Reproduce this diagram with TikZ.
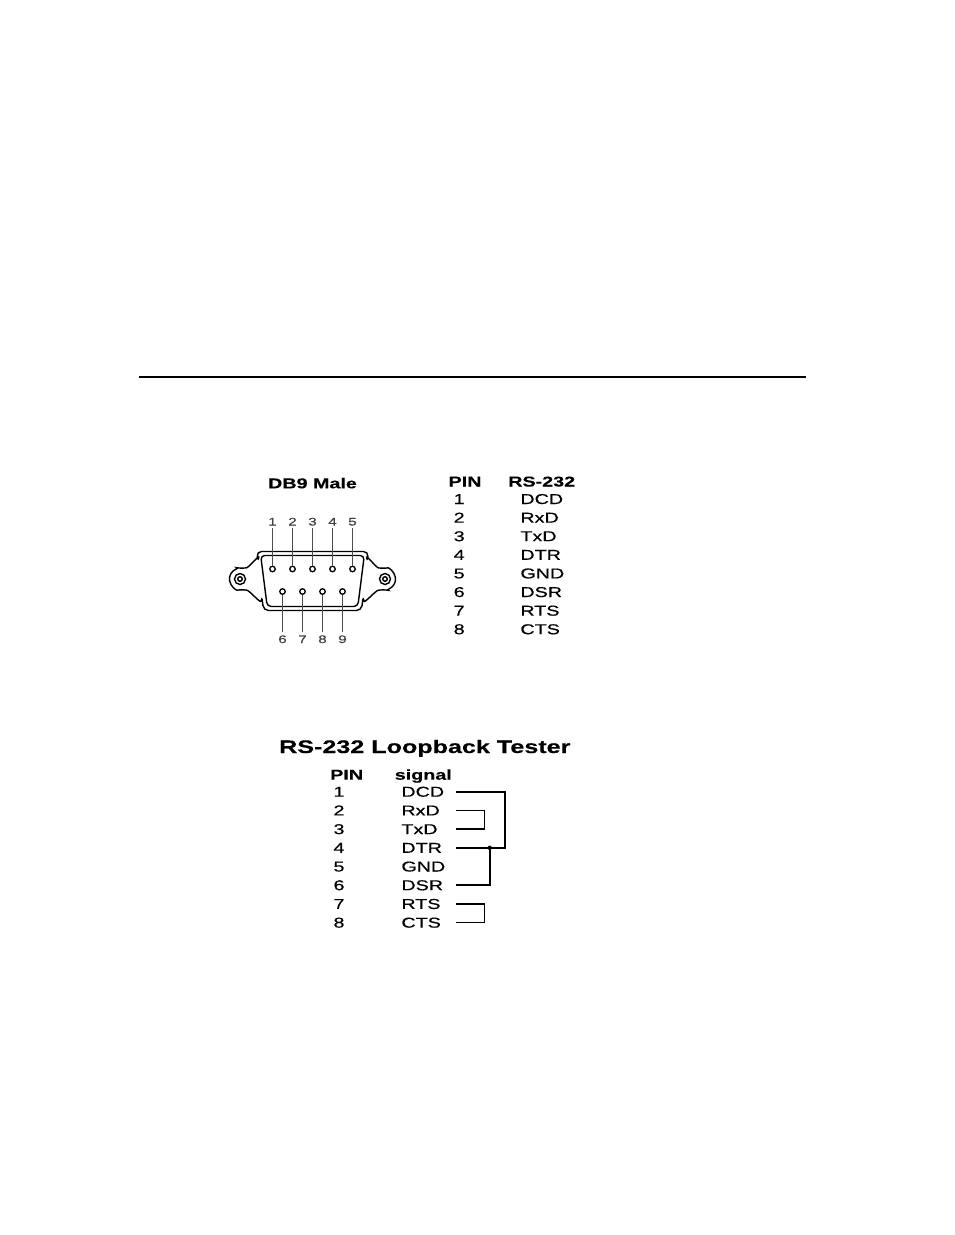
\documentclass[tikz,border=0pt]{standalone}
\usepackage{fontspec}
\setmainfont{Liberation Sans}[FakeStretch=1.38, UprightFeatures={FakeBold=0.4}, BoldFeatures={FakeBold=0.3}]
\usetikzlibrary{calc}

\begin{document}
\begin{tikzpicture}[x=1pt, y=-1pt,
  txt/.style = {inner sep=0pt, text height=10pt, text depth=0pt, font=\fontsize{14.3}{16}\selectfont},
  hd/.style = {txt, font=\bfseries\fontsize{14.3}{16}\selectfont},
  sig/.style = {txt, anchor=west, text width=54.8pt},
  pinno/.style = {inner sep=2.5pt, text height=8pt, text depth=0pt, font=\fontsize{11}{12}\selectfont, text=black!75},
  pin/.style = {draw, circle, minimum size=5.5pt, inner sep=0pt, line width=1.3pt},
  pinline/.style = {draw=black!70, line width=0.8pt},
  shell/.style = {line width=1.4pt},
  wire/.style = {line width=1.6pt}]
  \useasboundingbox (0,0) rectangle (954,1235);
  \draw[line width=2pt] (139,377) -- (806,377);

  % DB9 male connector
  \node[hd] (db9) at (312.5,483.3) {DB9 Male};
  \draw[shell, rounded corners=5pt] (312.5,551.5) -- (368.5,551.5) -- (367.2,562)
    to[out=97, in=170] (383.2,568.7) arc[start angle=-100, end angle=100, radius=10.5]
    to[out=-170, in=-83] (363.2,596) -- (361.5,610.5) -- (263.5,610.5) -- (261.8,596)
    to[out=-97, in=-10] (241.8,589.3) arc[start angle=80, end angle=280, radius=10.5]
    to[out=10, in=83] (258.2,562) -- (256.5,551.5) -- cycle;
  \draw[shell, rounded corners=4pt] (260.7,555.5) -- (364.3,555.5) -- (357.8,606.5) -- (267.2,606.5) -- cycle;
  \foreach \x in {240,385}
    \draw[shell] (\x,579) circle[radius=5.5] (\x,579) circle[radius=2.3];
  \foreach \i in {1,...,5} {
    \node[pin] (p\i) at (252.5+20*\i,569) {};
    \node[pinno] (n\i) at (252.5+20*\i,521.5) {\i};
    \draw[pinline] (n\i) -- (p\i);
  }
  \foreach \i in {6,...,9} {
    \node[pin] (p\i) at (162.5+20*\i,591.5) {};
    \node[pinno] (n\i) at (162.5+20*\i,639) {\i};
    \draw[pinline] (n\i) -- (p\i);
  }

  % pin table
  \node[hd] (pinhd) at (465,481.5) {PIN};
  \node[hd] (rshd) at (541.7,481.5) {RS-232};
  \foreach \s [count=\i] in {DCD,RxD,TxD,DTR,GND,DSR,RTS,CTS} {
    \node[txt] (a\i) at (459.2,480.4+18.6*\i) {\i};
    \node[sig] (b\i) at (520.2,480.4+18.6*\i) {\s};
  }

  % loopback tester
  \node[hd, font=\bfseries\fontsize{18.2}{20}\selectfont, text height=13pt] (title) at (424.8,746.5) {RS-232 Loopback Tester};
  \node[hd] (lpin) at (346.7,774.7) {PIN};
  \node[hd] (lsig) at (423.3,774.7) {signal};
  \foreach \s [count=\i] in {DCD,RxD,TxD,DTR,GND,DSR,RTS,CTS} {
    \node[txt] (c\i) at (339,773+18.7*\i) {\i};
    \node[sig] (s\i) at (401.2,773+18.7*\i) {\s};
  }
  \coordinate (dot) at ($(s4.east)+(33.3,0)$);
  \draw[wire] (s1.east) -- ++(48.3,0) |- (s4.east);
  \draw[wire] (s6.east) -| (dot);
  \fill (dot) circle[radius=2.2pt];
  \draw[wire] (s2.east) -- ++(28,0) |- (s3.east);
  \draw[wire] (s7.east) -- ++(28,0) |- (s8.east);
\end{tikzpicture}
\end{document}
